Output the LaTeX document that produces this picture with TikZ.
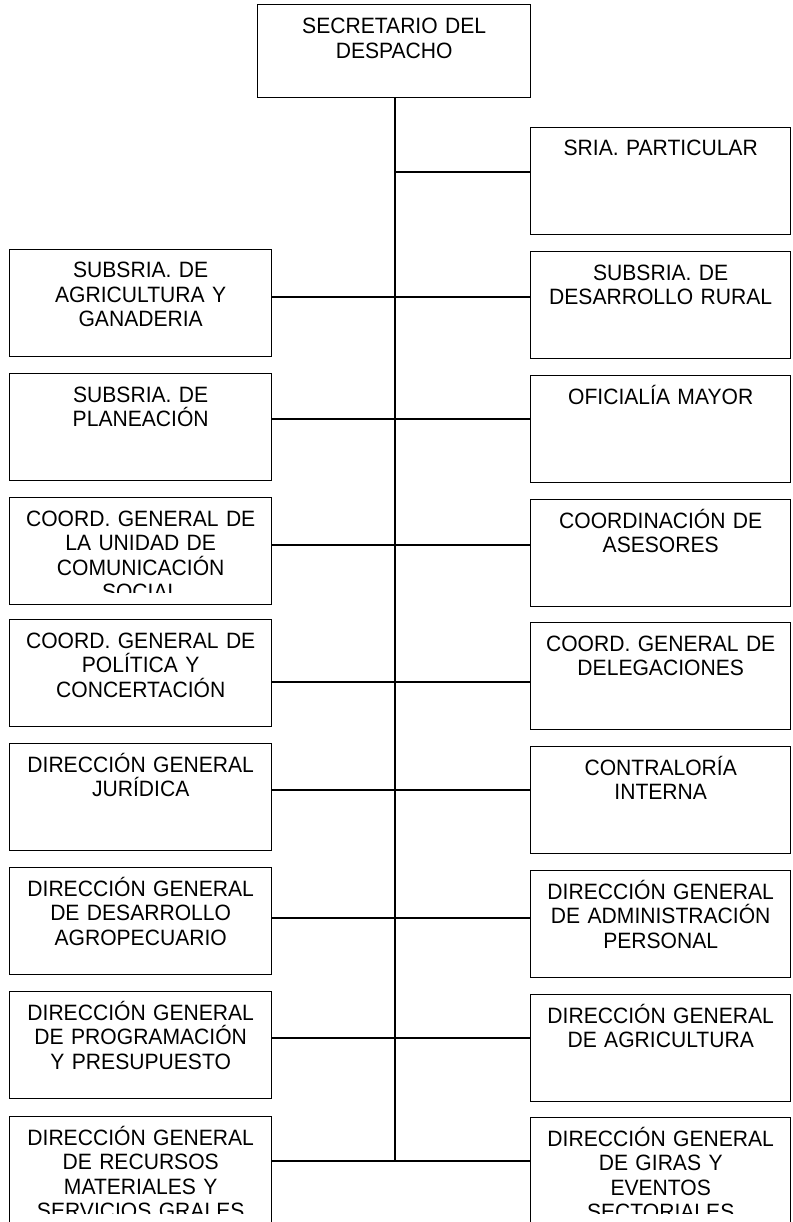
\documentclass[tikz,border=0pt]{standalone}
\usepackage{fontspec}
\setmainfont{Liberation Sans}[FakeStretch=0.95]
\tikzset{
  orgbox/.style={draw, line width=1.4pt, inner sep=0pt, minimum height=107pt, anchor=north west},
  lbl/.style={align=center, inner sep=0pt, anchor=base, font=\fontsize{22.2}{24.5}\selectfont, text width=256pt},
  link/.style={line width=1.3pt},
}
% #1 name, #2 x, #3 top, #4 width, #5 clip height, #6 text
\newcommand\orgunit[6]{%
  \node[orgbox, minimum width=#4pt] (#1) at (#2,#3) {};
  \begin{scope}
    \clip (#2,#3) rectangle ++(#4,#5);
    \node[lbl] (#1t) at ([yshift=-29pt]#1.north) {#6};
  \end{scope}}
\begin{document}
\begin{tikzpicture}[x=1pt,y=-1pt]
\useasboundingbox (0,0) rectangle (792,1222);
\fill[white] (0,0) rectangle (792,1222);

% top box
\node[orgbox, minimum width=273pt, minimum height=93pt] (top) at (257,4) {};
\node[lbl] (topt) at ([yshift=-30pt]top.north) {SECRETARIO DEL\\DESPACHO};

% right column
\orgunit{r1}{530}{127}{260}{100}{SRIA. PARTICULAR}
\orgunit{r2}{530}{251}{260}{100}{SUBSRIA. DE\\DESARROLLO RURAL}
\orgunit{r3}{530}{375}{260}{100}{OFICIALÍA MAYOR}
\orgunit{r4}{530}{499}{260}{100}{COORDINACIÓN DE\\ASESORES}
\orgunit{r5}{530}{622}{260}{100}{COORD. GENERAL DE\\DELEGACIONES}
\orgunit{r6}{530}{746}{260}{100}{CONTRALORÍA\\INTERNA}
\orgunit{r7}{530}{870}{260}{100}{DIRECCIÓN GENERAL\\DE ADMINISTRACIÓN\\PERSONAL}
\orgunit{r8}{530}{994}{260}{100}{DIRECCIÓN GENERAL\\DE AGRICULTURA}
\node[orgbox, minimum width=260pt, minimum height=130pt] (r9) at (530,1117) {};
\begin{scope}
  \clip (530,1117) rectangle (790,1213);
  \node[lbl] (r9t) at ([yshift=-29pt]r9.north) {DIRECCIÓN GENERAL\\DE GIRAS Y\\EVENTOS\\SECTORIALES};
\end{scope}

% left column
\orgunit{l2}{9}{249}{262}{100}{SUBSRIA. DE\\AGRICULTURA Y\\GANADERIA}
\orgunit{l3}{9}{373}{262}{100}{SUBSRIA. DE\\PLANEACIÓN}
\orgunit{l4}{9}{497}{262}{95}{COORD. GENERAL DE\\LA UNIDAD DE\\COMUNICACIÓN\\SOCIAL}
\orgunit{l5}{9}{619}{262}{100}{COORD. GENERAL DE\\POLÍTICA Y\\CONCERTACIÓN}
\orgunit{l6}{9}{743}{262}{100}{DIRECCIÓN GENERAL\\JURÍDICA}
\orgunit{l7}{9}{867}{262}{100}{DIRECCIÓN GENERAL\\DE DESARROLLO\\AGROPECUARIO}
\orgunit{l8}{9}{991}{262}{100}{DIRECCIÓN GENERAL\\DE PROGRAMACIÓN\\Y PRESUPUESTO}
\node[orgbox, minimum width=262pt, minimum height=130pt] (l9) at (9,1116) {};
\begin{scope}
  \clip (9,1116) rectangle (271,1213);
  \node[lbl] (l9t) at ([yshift=-29pt]l9.north) {DIRECCIÓN GENERAL\\DE RECURSOS\\MATERIALES Y\\SERVICIOS GRALES};
\end{scope}

% spine junctions
\coordinate (s1) at (395,172);
\coordinate (s2) at (395,297);
\coordinate (s3) at (395,419);
\coordinate (s4) at (395,545);
\coordinate (s5) at (395,682);
\coordinate (s6) at (395,790);
\coordinate (s7) at (395,918);
\coordinate (s8) at (395,1038);
\coordinate (s9) at (395,1161);

\draw[link] (top.south -| s1) -- (s9);
\draw[link] (s1) -- (r1.west |- s1);
\draw[link] (l2.east |- s2) -- (r2.west |- s2);
\draw[link] (l3.east |- s3) -- (r3.west |- s3);
\draw[link] (l4.east |- s4) -- (r4.west |- s4);
\draw[link] (l5.east |- s5) -- (r5.west |- s5);
\draw[link] (l6.east |- s6) -- (r6.west |- s6);
\draw[link] (l7.east |- s7) -- (r7.west |- s7);
\draw[link] (l8.east |- s8) -- (r8.west |- s8);
\draw[link] (l9.east |- s9) -- (r9.west |- s9);
\end{tikzpicture}
\end{document}
